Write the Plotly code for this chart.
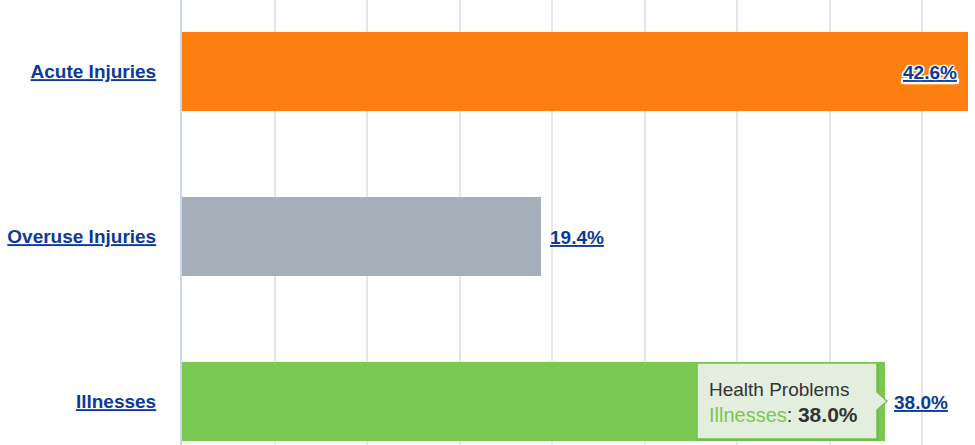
import plotly.graph_objects as go

# ---- data ----
categories = ["Acute Injuries", "Overuse Injuries", "Illnesses"]
values = [42.6, 19.4, 38.0]
value_labels = ["42.6%", "19.4%", "38.0%"]
bar_colors = ["#fc7f0f", "#a5aeb9", "#7ac851"]
tooltip_title = "Health Problems"
tooltip_index = 2

# ---- layout constants (page pixels) ----
W, H = 975, 445
PLOT_L, PLOT_R = 182, 968
ML, MR = PLOT_L, W - PLOT_R
PX_PER_UNIT = 18.5
X_MAX = (PLOT_R - PLOT_L) / PX_PER_UNIT
CAT_STEP = 165.0
CAT0_Y = 71.5
LINK = "#0b3a9a"
FONT = "Liberation Sans, Arial, sans-serif"


def px_to_x(px):
    return (px - PLOT_L) / PX_PER_UNIT


def py_to_paper(py):
    return 1 - py / H


fig = go.Figure()
fig.add_trace(go.Bar(
    orientation="h",
    x=values,
    y=categories,
    marker=dict(color=bar_colors, line=dict(width=0)),
    width=0.479,
    hoverinfo="skip",
))

annotations = []
for i, (cat, v, lab) in enumerate(zip(categories, values, value_labels)):
    inside = v > X_MAX - 3
    annotations.append(dict(
        x=min(v, X_MAX) if inside else v, y=cat, xref="x", yref="y",
        text=lab, showarrow=False,
        xanchor="right" if inside else "left",
        xshift=-9 if inside else 7,
        yshift=-1,
        font=dict(family=FONT, size=19, color=LINK, weight="bold",
                  lineposition="under",
                  shadow="1px 1px 1px #fff, -1px -1px 1px #fff, 1px -1px 1px #fff, -1px 1px 1px #fff" if inside else "none"),
    ))

# ---- static tooltip ----
tv = values[tooltip_index]
tip_x = tv + 2 / PX_PER_UNIT
box_l = px_to_x(697)
box_r = px_to_x(877)
top = py_to_paper(363)
bot = py_to_paper(439)
ay = py_to_paper(401)
ah = 9 / H
path = (f"M {box_l},{top} L {box_r},{top} L {box_r},{ay + ah} L {tip_x},{ay} "
        f"L {box_r},{ay - ah} L {box_r},{bot} L {box_l},{bot} Z")
shadow_dx = 1.5 / PX_PER_UNIT
shadow_dy = 1.5 / H
shadow_path = (f"M {box_l + shadow_dx},{top - shadow_dy} L {box_r + shadow_dx},{top - shadow_dy} "
               f"L {box_r + shadow_dx},{bot - shadow_dy} L {box_l + shadow_dx},{bot - shadow_dy} Z")
shapes = [
    dict(type="path", path=shadow_path, xref="x", yref="paper",
         fillcolor="rgba(0,0,0,0.12)", line=dict(width=0), layer="above"),
    dict(type="path", path=path, xref="x", yref="paper",
         fillcolor="#e4eedf", line=dict(color="#77c14d", width=1.5), layer="above"),
]
annotations.append(dict(
    x=px_to_x(707), y=py_to_paper(397), xref="x", yref="paper",
    xanchor="left", yanchor="bottom", yshift=-5, align="left", showarrow=False,
    text=tooltip_title,
    font=dict(family=FONT, size=19, color="#333333"),
))
annotations.append(dict(
    x=px_to_x(707), y=py_to_paper(423), xref="x", yref="paper",
    xanchor="left", yanchor="bottom", yshift=-5, align="left", showarrow=False,
    text=(f"<span style='color:{bar_colors[tooltip_index]}'>"
          f"{categories[tooltip_index]}</span>: "
          f"<b><span style='font-size:21px'>{value_labels[tooltip_index]}</span></b>"),
    font=dict(family=FONT, size=20, color="#333333"),
))

fig.update_layout(
    width=W, height=H,
    margin=dict(l=ML, r=MR, t=0, b=0, pad=0),
    paper_bgcolor="#ffffff", plot_bgcolor="#ffffff",
    showlegend=False, hovermode=False,
    annotations=annotations, shapes=shapes,
    bargap=0,
)
y_top = (0 - CAT0_Y) / CAT_STEP
y_bot = (H - CAT0_Y) / CAT_STEP
fig.update_xaxes(
    range=[0, X_MAX], dtick=5, tick0=0,
    showgrid=True, gridcolor="#e6e6e6", gridwidth=1.5,
    zeroline=False, showticklabels=False, ticks="",
)
fig.update_yaxes(
    type="category", categoryorder="array", categoryarray=categories,
    range=[y_bot, y_top],
    showline=True, linecolor="#ccd6eb", linewidth=2,
    showgrid=False, zeroline=False, ticks="",
    ticklabelstandoff=20,
    tickfont=dict(family=FONT, size=19, color=LINK, weight="bold", lineposition="under"),
)

fig.write_html("out.html", config={"displayModeBar": False},
               post_script="document.body.style.margin='0';")
